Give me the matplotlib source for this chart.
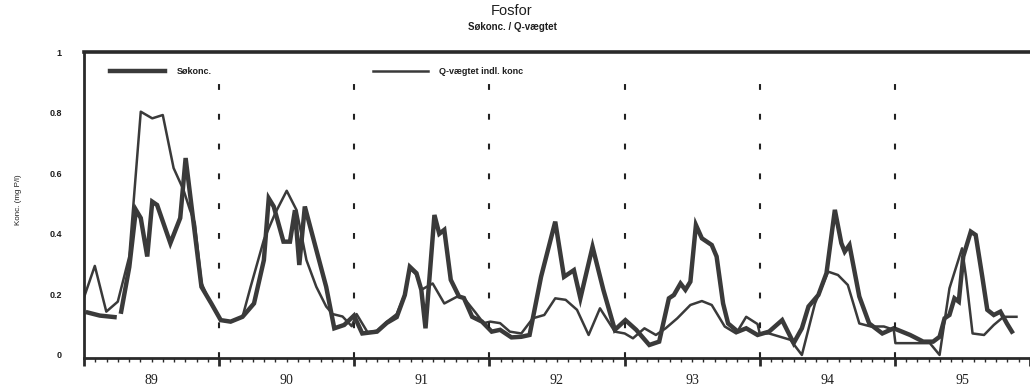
import numpy as np
import matplotlib
matplotlib.use("Agg")
import matplotlib.pyplot as plt
from matplotlib.ticker import FixedLocator, NullFormatter

# Time axis: years since start of 1989 (0 = 1 Jan 1989)
year_labels = ["89", "90", "91", "92", "93", "94", "95"]

# Lake concentration (Søkonc.), mg P/l; NaN marks a gap in the record
soekonc_t = [0.029, 0.117, 0.226, np.nan,
             0.275, 0.335, 0.384, 0.420, 0.468, 0.505, 0.541, 0.639, 0.712, 0.752,
             0.808, 0.869, 0.942, 1.012, 1.085, 1.173, 1.258, 1.331, 1.367, 1.404,
             1.476, 1.524, 1.561, 1.593, 1.634, 1.719, 1.792, 1.852, 1.925, 1.998,
             2.059, 2.168, 2.241, 2.314, 2.374, 2.411, 2.460, 2.496, 2.527, 2.593,
             2.629, 2.666, 2.714, 2.775, 2.811, 2.872, 2.945, 3.017, 3.079, 3.163,
             3.236, 3.297, 3.382, 3.487, 3.552, 3.625, 3.673, 3.763, 3.843, 3.928,
             4.006, 4.086, 4.183, 4.256, 4.328, 4.365, 4.414, 4.450, 4.487, 4.528,
             4.572, 4.645, 4.681, 4.729, 4.766, 4.838, 4.900, 4.984, 5.069, 5.166,
             5.251, 5.312, 5.361, 5.434, 5.494, 5.556, 5.604, 5.629, 5.664, 5.737,
             5.810, 5.907, 5.992, 6.113, 6.210, 6.283, 6.331, 6.368, 6.404, 6.441,
             6.473, 6.506, 6.562, 6.598, 6.647, 6.684, 6.732, 6.781, 6.829, 6.866]
soekonc_v = [0.140, 0.130, 0.125, np.nan,
             0.143, 0.290, 0.479, 0.452, 0.325, 0.506, 0.495, 0.369, 0.452, 0.650,
             0.446, 0.225, 0.170, 0.115, 0.110, 0.126, 0.170, 0.313, 0.517, 0.490,
             0.374, 0.374, 0.478, 0.297, 0.490, 0.347, 0.225, 0.088, 0.099, 0.130,
             0.071, 0.077, 0.106, 0.125, 0.198, 0.291, 0.270, 0.215, 0.088, 0.462,
             0.400, 0.413, 0.248, 0.193, 0.188, 0.126, 0.110, 0.077, 0.083, 0.058,
             0.060, 0.066, 0.258, 0.440, 0.258, 0.280, 0.187, 0.357, 0.215, 0.083,
             0.115, 0.083, 0.033, 0.044, 0.187, 0.198, 0.236, 0.215, 0.242, 0.429,
             0.385, 0.363, 0.325, 0.170, 0.104, 0.077, 0.088, 0.066, 0.077, 0.115,
             0.039, 0.088, 0.160, 0.198, 0.270, 0.479, 0.369, 0.341, 0.363, 0.193,
             0.104, 0.071, 0.088, 0.066, 0.044, 0.044, 0.060, 0.121, 0.132, 0.187,
             0.176, 0.325, 0.407, 0.396, 0.258, 0.149, 0.132, 0.143, 0.104, 0.077]

# Discharge-weighted inflow concentration (Q-vægtet indl. konc), mg P/l
qvaegt_t = [0.000, 0.080, 0.165, 0.250, 0.335, 0.420, 0.505, 0.583, 0.663, 0.736,
            0.784, 0.820, 0.869, 0.918, 1.012, 1.085, 1.173, 1.233, 1.331, 1.415,
            1.500, 1.573, 1.646, 1.719, 1.792, 1.840, 1.913, 1.981, 2.017, 2.098,
            2.170, 2.241, 2.314, 2.374, 2.411, 2.460, 2.496, 2.580, 2.666, 2.763,
            2.811, 2.897, 2.957, 3.006, 3.079, 3.151, 3.236, 3.321, 3.406, 3.487,
            3.564, 3.648, 3.734, 3.818, 3.928, 4.001, 4.062, 4.147, 4.232, 4.304,
            4.390, 4.487, 4.572, 4.645, 4.741, 4.826, 4.900, 4.984, 5.000, 5.069,
            5.227, 5.312, 5.409, 5.506, 5.579, 5.652, 5.737, 5.822, 5.919, 5.992,
            6.004, 6.259, 6.331, 6.404, 6.497, 6.526, 6.575, 6.660, 6.732, 6.804,
            6.900]
qvaegt_v = [0.190, 0.294, 0.143, 0.176, 0.325, 0.803, 0.781, 0.792, 0.617, 0.545,
            0.479, 0.436, 0.238, 0.188, 0.115, 0.110, 0.126, 0.225, 0.380, 0.468,
            0.542, 0.478, 0.313, 0.225, 0.160, 0.135, 0.127, 0.095, 0.135, 0.075,
            0.080, 0.110, 0.135, 0.200, 0.285, 0.265, 0.215, 0.236, 0.170, 0.193,
            0.188, 0.140, 0.105, 0.110, 0.105, 0.077, 0.071, 0.121, 0.132, 0.187,
            0.182, 0.149, 0.066, 0.154, 0.077, 0.071, 0.055, 0.088, 0.066, 0.088,
            0.121, 0.165, 0.178, 0.165, 0.094, 0.071, 0.126, 0.102, 0.071, 0.071,
            0.050, 0.000, 0.170, 0.275, 0.264, 0.231, 0.104, 0.094, 0.094, 0.083,
            0.039, 0.039, 0.000, 0.220, 0.352, 0.260, 0.071, 0.066, 0.099, 0.126,
            0.126]

ink = "#3a3a3a"
txt = "#1e1e1e"
sans = ["Liberation Sans", "DejaVu Sans"]
serif = ["Liberation Serif", "DejaVu Serif"]

fig = plt.figure(figsize=(10.30, 3.91), dpi=100)
ax = fig.add_axes([84 / 1030, 1 - 358 / 391, 1 - 84 / 1030, (358 - 52) / 391])

ax.plot(soekonc_t, soekonc_v, color=ink, lw=3.2, solid_joinstyle="miter",
        label="Søkonc.")
ax.plot(qvaegt_t, qvaegt_v, color=ink, lw=1.8, label="Q-vægtet indl. konc")

# Year boundaries
for k in range(1, len(year_labels)):
    ax.axvline(k, ymin=0.0, ymax=0.97, color="#222222", lw=1.5,
               dashes=(2.8, 11.5))

ax.set_xlim(0, 946 / 137.3)
ax.set_ylim(-0.01, 1.0)

for side in ("left", "bottom"):
    ax.spines[side].set_linewidth(2.0)
    ax.spines[side].set_color("#2a2a2a")
ax.spines["top"].set_linewidth(2.6)
ax.spines["top"].set_color("#2a2a2a")
ax.spines["right"].set_visible(False)

# y axis
ax.set_yticks([0, 0.2, 0.4, 0.6, 0.8, 1.0])
ax.set_yticklabels(["0", "0.2", "0.4", "0.6", "0.8", "1"])
ax.tick_params(axis="y", length=0, pad=16, labelsize=6.5, colors=txt)
for lab in ax.get_yticklabels():
    lab.set_family(sans)
    lab.set_fontweight("bold")

# x axis: year ticks, monthly minor ticks, labels centred in each year
ax.set_xticks(range(0, len(year_labels) + 1))
ax.set_xticklabels([""] * (len(year_labels) + 1))
ax.xaxis.set_minor_locator(FixedLocator(np.arange(0, 7, 1 / 12)))
ax.xaxis.set_minor_formatter(NullFormatter())
ax.tick_params(axis="x", which="major", direction="out", length=6, width=2,
               color="#2a2a2a")
ax.tick_params(axis="x", which="minor", direction="out", length=3, width=1,
               color="#2a2a2a")
for k, lab in enumerate(year_labels):
    ax.text(k + 0.5, -0.085, lab, ha="center", va="center", fontsize=10,
            family=serif, color=txt, transform=ax.transData, clip_on=False)

fig.text(18 / 1030, 1 - 200 / 391, "Konc. (mg P/l)", rotation=90,
         ha="center", va="center", fontsize=5.8, family=sans, color=txt)

fig.text(512 / 1030, 1 - 11 / 391, "Fosfor", ha="center", va="center",
         fontsize=10.5, family=sans, color=txt)
fig.text(512 / 1030, 1 - 27 / 391, "Søkonc. / Q-vægtet", ha="center",
         va="center", fontsize=7, family=sans, fontweight="bold", color=txt)

h1, h2 = ax.get_lines()[:2]
leg_prop = {"family": sans, "size": 6.5, "weight": "bold"}
leg1 = ax.legend([h1], [h1.get_label()], loc="center left",
                 bbox_to_anchor=(0.028, 0.935), frameon=False, borderpad=0,
                 borderaxespad=0, handlelength=6.0, handletextpad=1.3,
                 prop=leg_prop)
ax.add_artist(leg1)
leg2 = ax.legend([h2], [h2.get_label()], loc="center left",
                 bbox_to_anchor=(0.306, 0.935), frameon=False, borderpad=0,
                 borderaxespad=0, handlelength=6.0, handletextpad=1.3,
                 prop=leg_prop)
for leg in (leg1, leg2):
    for t in leg.get_texts():
        t.set_color(txt)

fig.savefig("out.png", dpi=100)
